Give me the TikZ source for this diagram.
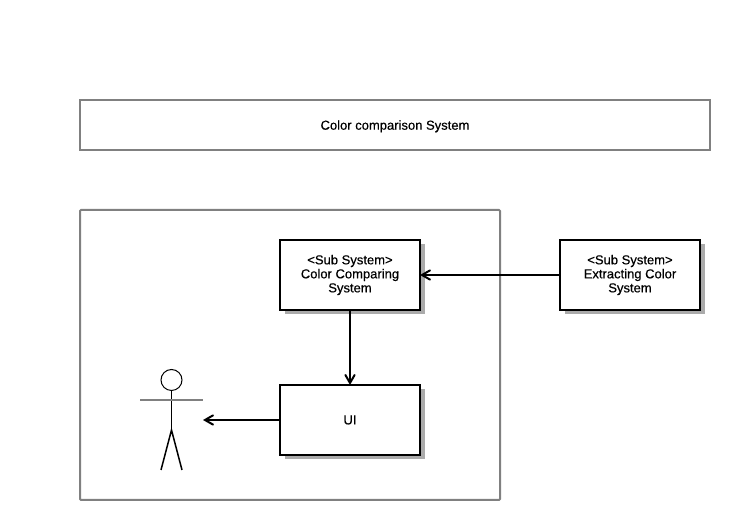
\documentclass[tikz,border=0pt]{standalone}
\usepackage{fontspec}
\setmainfont[FakeBold=0.4]{Liberation Sans}
\usetikzlibrary{arrows,shadows}

\begin{document}
\begin{tikzpicture}
    \tikzset{label/.style = {font=\fontsize{7.4}{7.97}\selectfont,align=center}}
    \tikzset{frame/.style = {shape=rectangle,draw=black!50,line width=0.04cm,inner sep=0pt,outer sep=0pt,label,text depth=0pt}}
    \tikzset{subsystem/.style = {shape=rectangle,draw,fill=white,line width=0.04cm,inner sep=0pt,outer sep=0pt,
        minimum width=2.8cm,minimum height=1.4cm,label,
        drop shadow={shadow xshift=0.09cm,shadow yshift=-0.09cm,fill=black!33,opacity=1}}}
    \tikzset{edge/.style = {->,> = angle 60,line width=0.04cm}}
    \useasboundingbox (0,0) rectangle (14.6,10.4);
    % frames

    \node[frame,minimum width=12.6cm,minimum height=1cm] (title) at (7.9,7.9) {Color comparison System};
    \node[frame,rounded corners=0.02cm,minimum width=8.4cm,minimum height=5.8cm] (boundary) at (5.8,3.3) {};

    % subsystems

    \node[subsystem] (comparing) at (7,4.9) {<Sub System>\\Color Comparing\\System};
    \node[subsystem] (extracting) at (12.6,4.9) {<Sub System>\\Extracting Color\\System};
    \node[subsystem] (ui) at (7,2) {UI};

    % actor

    \node[shape=circle,draw,line width=0.02cm,minimum size=0.42cm,inner sep=0pt,outer sep=0pt] (head) at (3.43,2.8) {};
    \coordinate (hip) at (3.43,1.8);
    \coordinate (armleft) at (2.8,2.4);
    \coordinate (armright) at (4.06,2.4);
    \coordinate (footleft) at (3.22,1);
    \coordinate (footright) at (3.64,1);
    \coordinate (actorside) at (4.06,2);
    \draw[line width=0.03cm] (head) -- (hip);
    \draw[line width=0.03cm] (footleft) -- (hip) -- (footright);
    \draw[draw=black!50,line width=0.03cm] (armleft) -- (armright);

    \path[edge] (extracting) edge
    node[above]{} (comparing);
    \path[edge] (comparing) edge
    node[above]{} (ui);
    \path[edge] (ui) edge
    node[above]{} (actorside);

\end{tikzpicture}
\end{document}
